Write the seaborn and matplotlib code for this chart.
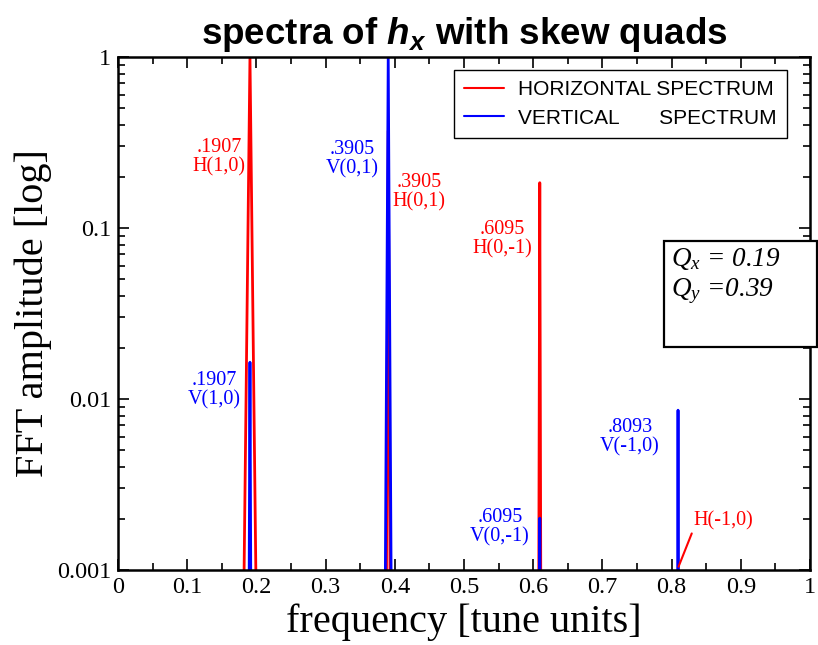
import numpy as np
import pandas as pd
import matplotlib
matplotlib.use("Agg")
import matplotlib.pyplot as plt
from matplotlib.patches import Rectangle
from matplotlib.ticker import LogLocator, NullFormatter, FixedLocator
import seaborn as sns

# ---------------- data ----------------
h_label = "HORIZONTAL SPECTRUM"
v_label = "VERTICAL       SPECTRUM"

h_freq = [0.0, 0.1794, 0.1907, 0.2020, 0.3870, 0.3905, 0.3940, 0.6075, 0.6095, 0.6115, 1.0]
h_amp = [1e-4, 1e-4, 1.0, 1e-4, 1e-4, 0.37, 1e-4, 1e-4, 0.184, 1e-4, 1e-4]

v_freq = [0.0, 0.1887, 0.1907, 0.1927, 0.3850, 0.3905, 0.3960, 0.6085, 0.6095, 0.6105, 0.8083, 0.8093, 0.8103, 1.0]
v_amp = [1e-4, 1e-4, 0.0164, 1e-4, 1e-4, 1.0, 1e-4, 1e-4, 0.00201, 1e-4, 1e-4, 0.0086, 1e-4, 1e-4]

x_ticks = [0.0, 0.1, 0.2, 0.3, 0.4, 0.5, 0.6, 0.7, 0.8, 0.9, 1.0]
x_ticklabels = ["0", "0.1", "0.2", "0.3", "0.4", "0.5", "0.6", "0.7", "0.8", "0.9", "1"]
y_ticks = [0.001, 0.01, 0.1, 1.0]
y_ticklabels = ["0.001", "0.01", "0.1", "1"]

# peak annotations: (text, x, y, colour)
ann_text = [".1907\nH(1,0)", ".1907\nV(1,0)", ".3905\nV(0,1)", ".3905\nH(0,1)",
            ".6095\nH(0,-1)", ".6095\nV(0,-1)", ".8093\nV(-1,0)"]
ann_x = [0.146, 0.139, 0.338, 0.435, 0.555, 0.552, 0.740]
ann_y = [0.26, 0.0113, 0.253, 0.162, 0.0863, 0.00178, 0.0060]
ann_c = ["red", "blue", "blue", "red", "red", "blue", "blue"]

# H(-1,0) pointer
ptr_text = "H(-1,0)"
ptr_xy = (0.810, 0.001045)
ptr_xytext = (0.831, 0.00171)

qx_text = r"$Q_x$ = 0.19"
qy_text = r"$Q_y$ =0.39"

# ---------------- style ----------------
sns.set_style("ticks")
plt.rcParams["font.family"] = ["Liberation Serif", "DejaVu Serif"]
plt.rcParams["text.color"] = "black"
plt.rcParams["axes.labelcolor"] = "black"
plt.rcParams["xtick.color"] = "black"
plt.rcParams["ytick.color"] = "black"
plt.rcParams["mathtext.fontset"] = "custom"
plt.rcParams["mathtext.rm"] = "Liberation Serif"
plt.rcParams["mathtext.it"] = "Liberation Serif:italic"
plt.rcParams["mathtext.bf"] = "Liberation Sans:bold"
plt.rcParams["mathtext.bfit"] = "Liberation Sans:bold:italic"

W, H = 818, 645
fig = plt.figure(figsize=(W / 100, H / 100), dpi=100)
L, R, T, B = 118, 810, 57, 570
ax = fig.add_axes([L / W, (H - B) / H, (R - L) / W, (B - T) / H])

df = pd.concat([
    pd.DataFrame({"freq": h_freq, "amp": h_amp, "spectrum": h_label}),
    pd.DataFrame({"freq": v_freq, "amp": v_amp, "spectrum": v_label}),
])

sns.lineplot(data=df, x="freq", y="amp", hue="spectrum",
             palette={h_label: "#ff0000", v_label: "#0000ff"},
             estimator=None, sort=False, lw=2.0, ax=ax)

ax.set_yscale("log")
ax.set_xlim(0, 1)
ax.set_ylim(0.001, 1)

ax.set_xticks(x_ticks)
ax.set_xticklabels(x_ticklabels)
ax.xaxis.set_minor_locator(FixedLocator(np.arange(0.05, 1.0, 0.1)))
ax.set_yticks(y_ticks)
ax.set_yticklabels(y_ticklabels)
ax.yaxis.set_minor_locator(LogLocator(base=10, subs=np.arange(2, 10)))
ax.yaxis.set_minor_formatter(NullFormatter())

ax.tick_params(which="both", direction="in", top=True, right=True,
               width=1.2, colors="black", labelsize=17.5)
ax.tick_params(which="major", length=8, pad=5)
ax.tick_params(which="minor", length=5)
for s in ax.spines.values():
    s.set_linewidth(1.8)
    s.set_color("black")

ax.set_xlabel("")
ax.set_ylabel("")

# legend
leg = ax.legend(loc="upper right", bbox_to_anchor=(0.967, 0.975), borderaxespad=0,
                frameon=True, fancybox=False, edgecolor="black", framealpha=1,
                prop={"family": "Liberation Sans", "size": 15},
                handlelength=1.9, handletextpad=0.7, borderpad=0.5, labelspacing=0.45)
leg.get_frame().set_linewidth(1.0)
for txt in leg.get_texts():
    txt.set_color("black")
for ln in leg.get_lines():
    ln.set_linewidth(1.5)

# peak annotations
for t, x, y, c in zip(ann_text, ann_x, ann_y, ann_c):
    ax.text(x, y, t, color=c, ha="center", va="center", fontsize=14.5,
            linespacing=1.0)

ax.annotate(ptr_text, xy=ptr_xy, xytext=ptr_xytext, color="red", fontsize=14.5,
            ha="left", va="bottom",
            arrowprops=dict(arrowstyle="-", color="red", lw=1.5,
                            shrinkA=0, shrinkB=0, relpos=(0, 0)))

# title and axis labels
fig.text(464 / W, 1 - 44 / H, r"spectra of $\mathbfit{h_x}$ with skew quads",
         ha="center", va="baseline", fontsize=26.5, fontweight="bold",
         family="Liberation Sans", color="black")
fig.text(464 / W, 1 - 622 / H, "frequency [tune units]", ha="center", va="center",
         fontsize=29, color="black")
fig.text(33 / W, 1 - 313 / H, "FFT amplitude [log]", ha="center", va="center",
         fontsize=29, rotation=90, color="black")

# Q box
fig.add_artist(Rectangle((664 / W, 1 - 347 / H), (817 - 664) / W, (347 - 241) / H,
                         transform=fig.transFigure, facecolor="white",
                         edgecolor="black", lw=1.6, zorder=5))
fig.text(671 / W, 1 - 266 / H, qx_text, fontsize=19.5, style="italic",
         va="baseline", zorder=6, color="black")
fig.text(671 / W, 1 - 296 / H, qy_text, fontsize=19.5, style="italic",
         va="baseline", zorder=6, color="black")

fig.savefig("out.png", dpi=100)
